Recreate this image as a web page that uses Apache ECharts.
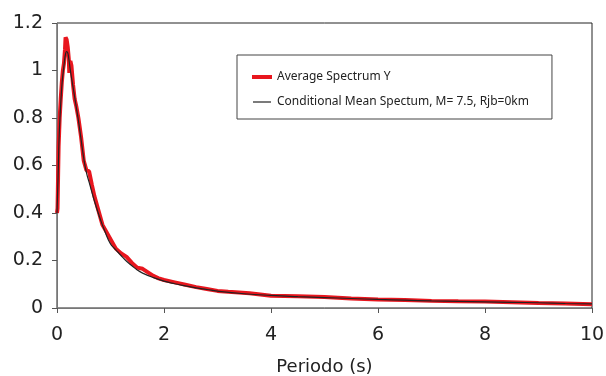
<!DOCTYPE html>
<html><head><meta charset="utf-8">
<script src="https://cdn.jsdelivr.net/npm/echarts@6/dist/echarts.min.js"></script>
<style>html,body{margin:0;padding:0;background:#fff}#c{width:606px;height:376px}</style>
</head><body><div id="c"></div>
<script>
const avgPeriods = [0,0.01,0.02,0.03,0.05,0.07,0.09,0.11,0.13,0.15,0.16,0.18,0.20,0.22,0.23,0.25,0.27,0.30,0.33,0.36,0.40,0.45,0.50,0.55,0.60,0.65,0.70,0.75,0.80,0.85,0.90,0.95,1.00,1.05,1.10,1.20,1.30,1.40,1.50,1.60,1.70,1.80,1.90,2.00,2.20,2.40,2.60,2.80,3.00,3.20,3.40,3.60,3.80,4.00,4.50,5.00,5.50,6.00,6.50,7.00,7.50,8.00,8.50,9.00,9.50,10.0];
const avgValues = [0.40,0.42,0.55,0.68,0.80,0.88,0.95,1.00,1.03,1.09,1.14,1.13,1.10,1.05,0.99,1.04,1.02,0.94,0.88,0.85,0.80,0.72,0.62,0.58,0.575,0.52,0.47,0.43,0.39,0.35,0.33,0.31,0.29,0.27,0.25,0.23,0.215,0.19,0.17,0.165,0.15,0.135,0.125,0.118,0.108,0.098,0.088,0.080,0.072,0.068,0.065,0.062,0.057,0.052,0.049,0.046,0.040,0.036,0.034,0.030,0.028,0.027,0.024,0.021,0.019,0.016];
const cmsPeriods = [0,0.02,0.04,0.06,0.08,0.10,0.12,0.14,0.16,0.18,0.20,0.22,0.25,0.30,0.35,0.40,0.45,0.50,0.55,0.60,0.70,0.80,0.90,1.00,1.10,1.20,1.30,1.40,1.50,1.60,1.80,2.00,2.20,2.40,2.60,2.80,3.00,3.50,4.00,4.50,5.00,5.50,6.00,6.50,7.00,7.50,8.00,8.50,9.00,9.50,10.0];
const cmsValues = [0.40,0.55,0.72,0.82,0.90,0.96,1.00,1.04,1.07,1.08,1.075,1.05,1.00,0.93,0.86,0.79,0.71,0.63,0.57,0.53,0.45,0.38,0.32,0.27,0.245,0.22,0.197,0.178,0.16,0.147,0.128,0.113,0.102,0.093,0.085,0.078,0.071,0.060,0.053,0.048,0.044,0.040,0.036,0.033,0.030,0.028,0.026,0.024,0.022,0.019,0.017];
const seriesNames = ['Average Spectrum Y','Conditional Mean Spectum, M= 7.5, Rjb=0km'];
const xTitle = 'Periodo (s)';

const chart = echarts.init(document.getElementById('c'));
const lblFont = 'DejaVu Sans';
chart.setOption({
  animation:false,
  grid:{left:57,right:14,top:23,bottom:68,show:true,borderColor:'#222',borderWidth:1,containLabel:false,outerBoundsMode:'none'},
  legend:{
    orient:'vertical',left:237,top:55,
    padding:[15,23,10,15],itemGap:11,itemWidth:20,itemHeight:14,
    borderColor:'#444',borderWidth:1,
    textStyle:{fontFamily:'Noto Sans',fontSize:12,color:'#222'},
    data:[
      {name:seriesNames[0],icon:'path://M0,0M20,14M0,5h20v4h-20z',itemStyle:{color:'#e8161e',borderWidth:0}},
      {name:seriesNames[1],icon:'path://M2,0M20,14M2,6.4h18v1.2h-18z',itemStyle:{color:'#222',borderWidth:0}}
    ]
  },
  xAxis:{type:'value',min:0,max:10,interval:2,
    name:xTitle,nameLocation:'middle',nameGap:50,
    nameTextStyle:{fontFamily:lblFont,fontSize:18,color:'#222'},
    axisLine:{lineStyle:{color:'#777',width:1}},
    axisTick:{show:true,length:5,lineStyle:{color:'#555'}},
    axisLabel:{fontFamily:lblFont,fontSize:19,color:'#222',margin:18},
    splitLine:{show:false}},
  yAxis:{type:'value',min:0,max:1.2,interval:0.2,
    axisLine:{show:true,lineStyle:{color:'#777',width:1}},
    axisTick:{show:true,length:5,lineStyle:{color:'#555'}},
    axisLabel:{fontFamily:lblFont,fontSize:19,color:'#222',margin:14},
    splitLine:{show:false}},
  series:[
    {name:seriesNames[0],type:'line',symbol:'none',smooth:false,
     lineStyle:{color:'#e8161e',width:4},itemStyle:{color:'#e8161e'},
     data:avgPeriods.map((t,i)=>[t,avgValues[i]])},
    {name:seriesNames[1],type:'line',symbol:'none',smooth:true,
     lineStyle:{color:'#222',width:1.2},itemStyle:{color:'#222'},
     data:cmsPeriods.map((t,i)=>[t,cmsValues[i]])}
  ]
});
</script></body></html>
